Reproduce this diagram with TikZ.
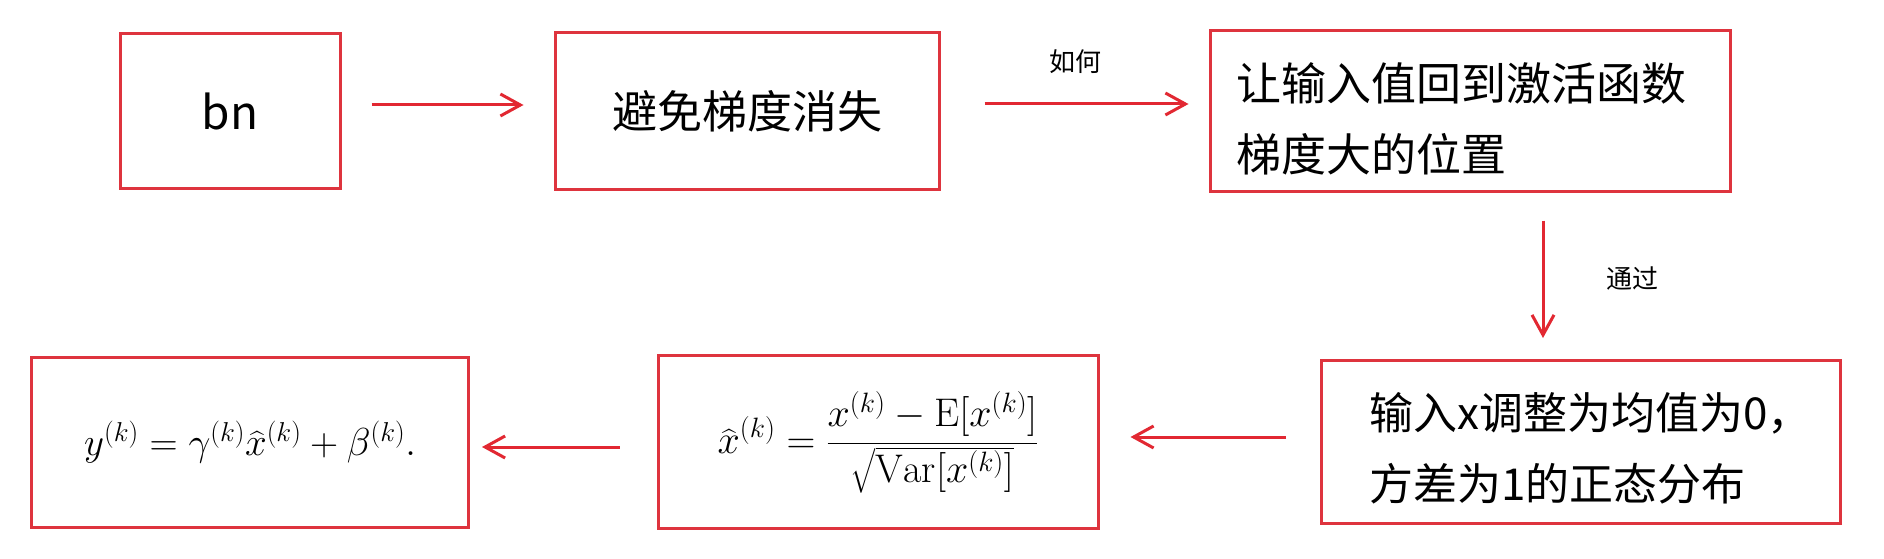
\RequirePackage{fix-cm}
\documentclass[tikz,border=0pt]{standalone}
\usepackage{fontspec}
\usepackage{amsmath}
\newfontfamily\cjk{Noto Sans CJK SC}
\usetikzlibrary{arrows.meta, positioning, calc}
\definecolor{boxred}{RGB}{222,52,62}
\definecolor{arrowred}{RGB}{226,40,50}
\tikzset{
    stepbox/.style = {draw=boxred, line width=3pt, rectangle, inner sep=0pt},
    flow/.style = {draw=arrowred, line width=3pt, -{Straight Barb[length=20pt,width=22pt]}},
    lbl/.style = {font=\cjk\fontsize{26}{30}\selectfont, inner sep=0pt},
}

\begin{document}
\begin{tikzpicture}[x=1pt, y=-1pt]
\useasboundingbox[fill=white] (0,0) rectangle (1884,559);

\node[stepbox, minimum width=220pt, minimum height=154pt, font=\cjk\fontsize{46}{50}\selectfont] (bn) at (230,111) {bn};
\node[stepbox, minimum width=384pt, minimum height=157pt, font=\cjk\fontsize{45}{50}\selectfont] (avoid) at (747,111) {避免梯度消失};
\node[stepbox, minimum width=520pt, minimum height=160pt, text width=468pt, text height=54pt, inner xsep=26pt, align=left, font=\cjk\fontsize{45}{71}\selectfont] (active) at (1470,111) {让输入值回到激活函数\\梯度大的位置};

\node[stepbox, minimum width=519pt, minimum height=163pt, text width=423pt, text height=50pt, inner xsep=48pt, align=left, font=\cjk\fontsize{44}{71}\selectfont] (norm) at (1581,442) {输入x调整为均值为0，\\方差为1的正态分布};
\node[stepbox, minimum width=440pt, minimum height=173pt, font=\fontsize{40}{44}\selectfont] (xhat) at (878,442) {$\displaystyle \widehat{x}^{(k)} = \frac{x^{(k)} - \mathrm{E}[x^{(k)}]}{\sqrt{\mathrm{Var}[x^{(k)}]}}$};
\node[stepbox, minimum width=437pt, minimum height=170pt, font=\fontsize{39}{43}\selectfont] (yout) at (250,442) {$y^{(k)} = \gamma^{(k)}\widehat{x}^{(k)} + \beta^{(k)}.$};

\draw[flow, shorten <=30pt, shorten >=30pt] ([yshift=6pt]bn.east) -- ([yshift=6pt]avoid.west);
\draw[flow, shorten <=44pt, shorten >=20pt] ([yshift=7pt]avoid.east) -- ([yshift=7pt]active.west);
\node[lbl] (how) at (1075,62) {如何};

\coordinate (drop) at ([xshift=73pt]active.south);
\draw[flow, shorten <=28pt, shorten >=21pt] (drop) -- (drop |- norm.north);
\node[lbl] (via) at (1632,279) {通过};

\draw[flow, shorten <=34pt, shorten >=31pt] ([yshift=5pt]norm.west) -- ([yshift=5pt]xhat.east);
\draw[flow, shorten <=37pt, shorten >=12pt] ([yshift=-5pt]xhat.west) -- ([yshift=-5pt]yout.east);
\end{tikzpicture}
\end{document}
